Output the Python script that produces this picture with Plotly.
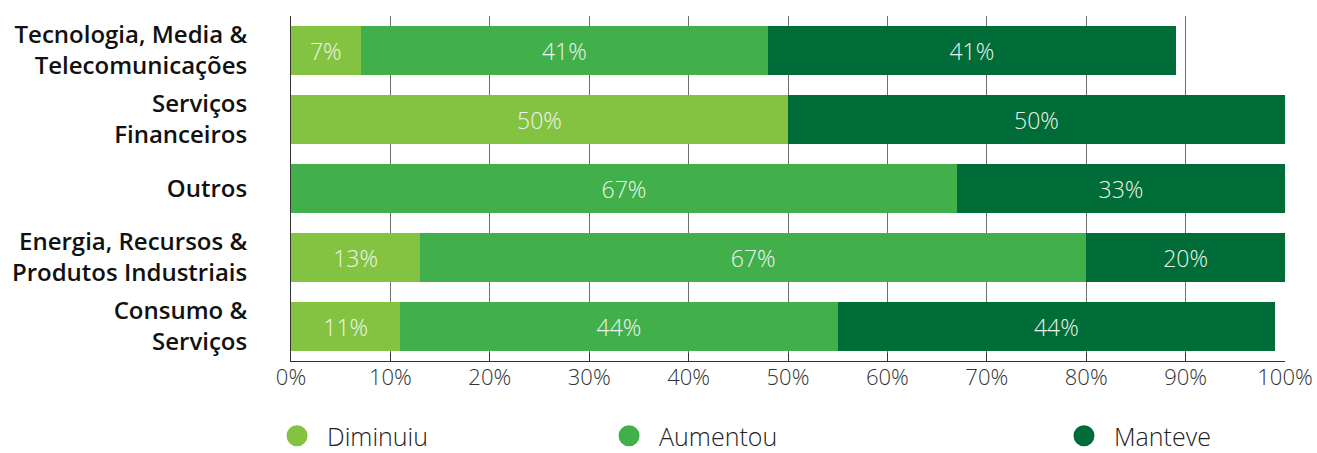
import plotly.graph_objects as go

# Sectors, top to bottom
categories = [
    "Tecnologia, Media &<br>Telecomunicações",
    "Serviços<br>Financeiros",
    "Outros",
    "Energia, Recursos &<br>Produtos Industriais",
    "Consumo &<br>Serviços",
]

# Share of responses per sector (%)
diminuiu = [7, 50, None, 13, 11]
aumentou = [41, None, 67, 67, 44]
manteve = [41, 50, 33, 20, 44]

series_names = ["Diminuiu", "Aumentou", "Manteve"]
colors = ["#84c341", "#41b04a", "#006c37"]
tick_vals = [0, 10, 20, 30, 40, 50, 60, 70, 80, 90, 100]
tick_text = ["0%", "10%", "20%", "30%", "40%", "50%", "60%", "70%", "80%", "90%", "100%"]

FONT = "Open Sans"

fig = go.Figure()

for name, vals, col in zip(series_names, [diminuiu, aumentou, manteve], colors):
    labels = [f"{v}%" if v is not None else "" for v in vals]
    fig.add_trace(go.Bar(
        y=categories,
        x=vals,
        orientation="h",
        name=name,
        marker=dict(color=col, line=dict(width=0)),
        text=labels,
        texttemplate="%{text}",
        textposition="inside",
        insidetextanchor="middle",
        textangle=0,
        textfont=dict(family=FONT, size=23, color="#eef3ee", weight=300),
        hoverinfo="skip",
        showlegend=False,
    ))

# Legend entries with round markers, each in its own legend box
legend_ids = ["legend", "legend2", "legend3"]
for name, col, lid in zip(series_names, colors, legend_ids):
    fig.add_trace(go.Scatter(
        x=[None], y=[None],
        mode="markers",
        name=name,
        marker=dict(symbol="circle", size=16, color=col, line=dict(color=col, width=6)),
        legend=lid,
        showlegend=True,
    ))

legend_style = dict(
    orientation="h",
    yanchor="middle",
    y=-0.2174,
    xanchor="left",
    itemwidth=50,
    font=dict(family=FONT, size=25, color="#222222", weight=300),
    bgcolor="rgba(0,0,0,0)",
    itemclick=False,
    itemdoubleclick=False,
)

fig.update_layout(
    width=1317,
    height=453,
    margin=dict(l=291, r=32, t=16, b=92, autoexpand=False),
    paper_bgcolor="white",
    plot_bgcolor="white",
    barmode="stack",
    bargap=0.28,
    legend=dict(x=-0.0241, **legend_style),
    legend2=dict(x=0.3099, **legend_style),
    legend3=dict(x=0.7676, **legend_style),
    xaxis=dict(
        range=[0, 100],
        tickvals=tick_vals,
        ticktext=tick_text,
        showgrid=True,
        gridcolor="#6e6e6e",
        gridwidth=1,
        showline=True,
        linecolor="#333333",
        linewidth=1,
        ticks="inside",
        ticklen=8,
        tickcolor="#333333",
        ticklabelstandoff=-3,
        tickfont=dict(family=FONT, size=22, color="#333333", weight=300),
        zeroline=False,
        layer="below traces",
        fixedrange=True,
    ),
    yaxis=dict(
        autorange="reversed",
        showgrid=False,
        showline=True,
        linecolor="#333333",
        linewidth=1,
        ticks="",
        ticklabelstandoff=38,
        tickfont=dict(family=FONT, size=24, color="#111111", weight=600),
        fixedrange=True,
    ),
)

fig.write_html("out.html")
